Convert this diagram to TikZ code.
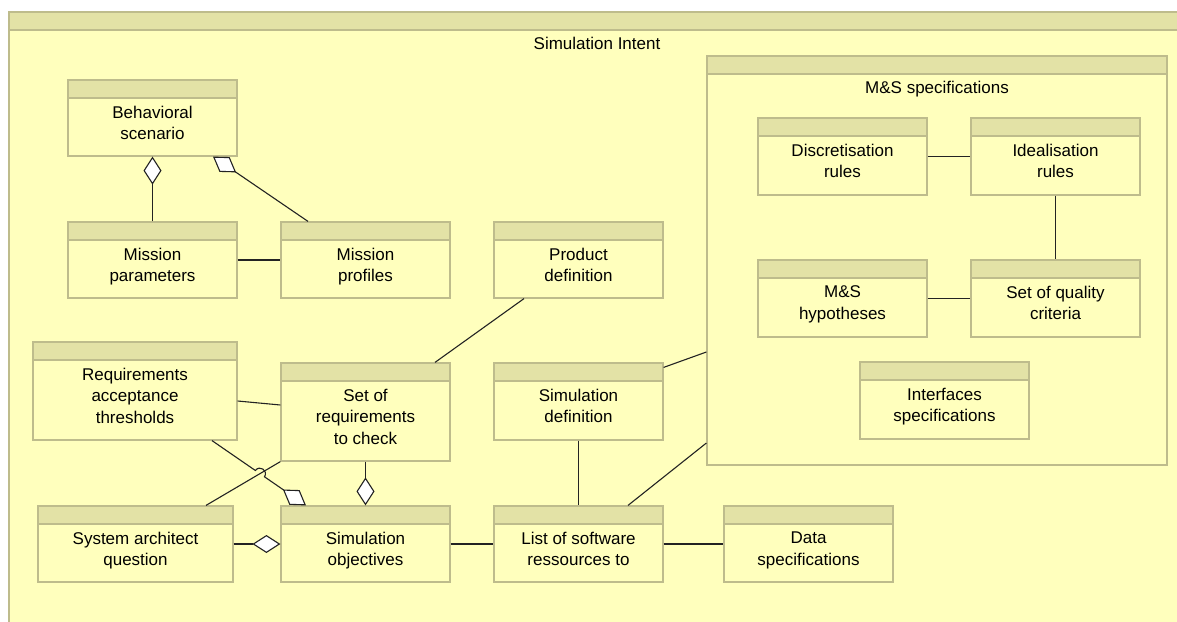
\documentclass[tikz,border=0pt]{standalone}
\usepackage{fontspec}
\setmainfont{Liberation Sans}
\usepackage{tikz}
\usetikzlibrary{positioning, arrows.meta, calc}

\definecolor{clsfill}{RGB}{255,255,189}
\definecolor{clshead}{RGB}{227,226,166}
\definecolor{clsline}{RGB}{190,188,140}
\definecolor{connline}{RGB}{35,35,35}

\begin{document}
\begin{tikzpicture}[
    x=1pt, y=1pt,
    cls/.style={draw=clsline, fill=clsfill, line width=1.2pt, inner sep=0pt,
        path picture={
            \fill[clshead] (path picture bounding box.north west) rectangle ([yshift=-18pt]path picture bounding box.north east);
            \draw[clsline, line width=1.2pt] ([yshift=-18pt]path picture bounding box.north west) -- ([yshift=-18pt]path picture bounding box.north east);
        }},
    ctxt/.style={align=center, inner sep=0pt, font=\fontsize{17}{21.5}\selectfont},
    conn/.style={draw=connline, line width=1.1pt},
    agg/.style={conn, -{Diamond[length=28pt, width=18pt, fill=white]}}
]
\useasboundingbox (0,0) rectangle (1177,-621);
\clip (0,0) rectangle (1177,-621);
\fill[white] (0,0) rectangle (1177,-621);

% frames
\node[cls, minimum width=1176pt, minimum height=628pt] (intent) at (597,-326) {};
\node[ctxt, anchor=base] (intent-t) at (597,-49) {Simulation Intent};
\node[cls, minimum width=460pt, minimum height=409pt] (msspec) at (937,-260.5) {};
\node[ctxt, anchor=base] (msspec-t) at (937,-93) {M\&S specifications};

% classes
\node[cls, minimum width=169pt, minimum height=76pt] (bsc) at (152.5,-118) {};
\node[ctxt, below=26.5pt of bsc.north] (bsc-t) {Behavioral\\scenario};
\node[cls, minimum width=169pt, minimum height=76pt] (mpar) at (152.5,-260) {};
\node[ctxt, below=26.5pt of mpar.north] (mpar-t) {Mission\\parameters};
\node[cls, minimum width=169pt, minimum height=76pt] (mprof) at (365.5,-260) {};
\node[ctxt, below=26.5pt of mprof.north] (mprof-t) {Mission\\profiles};
\node[cls, minimum width=169pt, minimum height=76pt] (pdef) at (578.5,-260) {};
\node[ctxt, below=26.5pt of pdef.north] (pdef-t) {Product\\definition};
\node[cls, minimum width=204pt, minimum height=98pt] (rat) at (135,-391) {};
\node[ctxt, below=26.5pt of rat.north] (rat-t) {Requirements\\acceptance\\thresholds};
\node[cls, minimum width=169pt, minimum height=98pt] (sreq) at (365.5,-412) {};
\node[ctxt, below=26.5pt of sreq.north] (sreq-t) {Set of\\requirements\\to check};
\node[cls, minimum width=169pt, minimum height=77pt] (sdef) at (578.5,-401.5) {};
\node[ctxt, below=26.5pt of sdef.north] (sdef-t) {Simulation\\definition};
\node[cls, minimum width=195pt, minimum height=76pt] (saq) at (135.5,-544) {};
\node[ctxt, below=26.5pt of saq.north] (saq-t) {System architect\\question};
\node[cls, minimum width=169pt, minimum height=76pt] (sobj) at (365.5,-544) {};
\node[ctxt, below=26.5pt of sobj.north] (sobj-t) {Simulation\\objectives};
\node[cls, minimum width=169pt, minimum height=76pt] (lsr) at (578.5,-544) {};
\node[ctxt, below=26.5pt of lsr.north] (lsr-t) {List of software\\ressources to};
\node[cls, minimum width=169pt, minimum height=76pt] (dspec) at (808.5,-544) {};
\node[ctxt, below=26.5pt of dspec.north] (dspec-t) {Data\\specifications};

% inside M&S specifications
\node[cls, minimum width=169pt, minimum height=77pt] (disc) at (842.5,-156.5) {};
\node[ctxt, below=26.5pt of disc.north] (disc-t) {Discretisation\\rules};
\node[cls, minimum width=169pt, minimum height=77pt] (ideal) at (1055.5,-156.5) {};
\node[ctxt, below=26.5pt of ideal.north] (ideal-t) {Idealisation\\rules};
\node[cls, minimum width=169pt, minimum height=77pt] (mshyp) at (842.5,-298.5) {};
\node[ctxt, below=26.5pt of mshyp.north] (mshyp-t) {M\&S\\hypotheses};
\node[cls, minimum width=169pt, minimum height=77pt] (sqc) at (1055.5,-298.5) {};
\node[ctxt, below=26.5pt of sqc.north] (sqc-t) {Set of quality\\criteria};
\node[cls, minimum width=169pt, minimum height=77pt] (ispec) at (944.5,-400.5) {};
\node[ctxt, below=26.5pt of ispec.north] (ispec-t) {Interfaces\\specifications};

% connectors
\draw[agg] (mpar) -- (bsc);
\draw[agg] ([xshift=-57.5pt]mprof.north) -- ([xshift=60.5pt]bsc.south);
\draw[conn] (mpar) -- (mprof);
\draw[conn] ([xshift=-54.5pt]pdef.south) -- ([xshift=69.5pt]sreq.north);
\draw[conn] ([yshift=-10pt]rat.east) -- ([yshift=7pt]sreq.west);
\coordinate (saqN) at ([xshift=70.5pt]saq.north);
\draw[conn] (sreq.south west) -- (saqN);
\coordinate (ratS) at ([xshift=77pt]rat.south);
\coordinate (sobjN) at ([xshift=-59.5pt]sobj.north);
\coordinate (hop) at (intersection of ratS--sobjN and sreq.south west--saqN);
\draw[agg] (ratS) -- ($(hop)!5.5pt!(ratS)$) to[bend left=90, looseness=1.7] ($(hop)!5.5pt!(sobjN)$) -- (sobjN);
\draw[agg] (sreq) -- (sobj);
\draw[agg] (saq) -- (sobj);
\draw[conn] (sobj) -- (lsr);
\draw[conn] (sdef) -- (lsr);
\draw[conn] ([yshift=-5pt]sdef.north east) -- ([yshift=-91.5pt]msspec.west);
\draw[conn] ([xshift=49.5pt]lsr.north) -- ([yshift=-182.5pt]msspec.west);
\draw[conn] (lsr) -- (dspec);
\draw[conn] (disc) -- (ideal);
\draw[conn] (ideal) -- (sqc);
\draw[conn] (mshyp) -- (sqc);
\end{tikzpicture}
\end{document}
